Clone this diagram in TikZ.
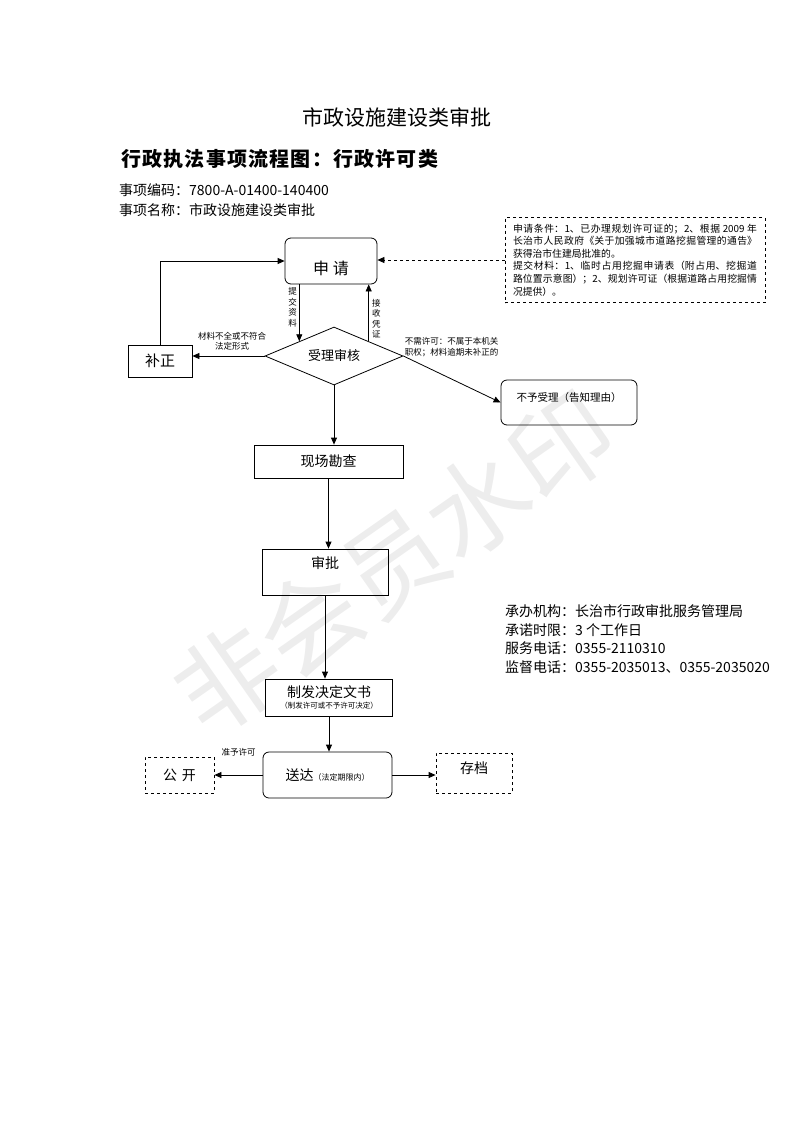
\documentclass[tikz,border=0pt]{standalone}
\usepackage{fontspec}
\setmainfont{Noto Sans CJK SC}
\newfontfamily\headfont[LetterSpace=6.0]{Noto Sans CJK SC}
\usetikzlibrary{shapes.geometric,arrows.meta,positioning}
\XeTeXlinebreaklocale "zh"
\XeTeXlinebreakskip=0pt plus 1.5pt
\tikzset{
  box/.style={draw, line width=0.8pt, inner sep=0pt, font=\fontsize{14}{16}\selectfont},
  rbox/.style={box, rounded corners=6pt},
  dbox/.style={box, dashed},
  decide/.style={draw, line width=0.8pt, diamond, aspect=2.4, minimum width=138pt,
    minimum height=58pt, inner sep=0pt, font=\fontsize{13}{15}\selectfont},
  arr/.style={line width=0.8pt, -{Triangle[length=7pt,width=6pt]}},
  tag/.style={font=\fontsize{8.5}{10.5}\selectfont, inner sep=1pt},
  lbl/.style={font=\fontsize{14}{18.5}\selectfont, inner sep=0pt}
}

\begin{document}
\begin{tikzpicture}[x=1pt,y=-1pt]
\useasboundingbox (0,0) rectangle (793,1122);
% watermark
\node[text=black!7, rotate=35, font=\fontsize{102}{102}\selectfont] (mark) at (394,563) {非会员水印};

% headings
\node[anchor=base, inner sep=0pt, font=\fontsize{21}{24}\selectfont] (title) at (397,125) {市政设施建设类审批};
\node[anchor=base west, inner sep=0pt, font=\headfont\bfseries\fontsize{20}{24}\selectfont] (subtitle) at (121,166) {行政执法事项流程图：行政许可类};
\node[lbl, anchor=base west] (code) at (119,195) {事项编码：7800-A-01400-140400};
\node[lbl, anchor=base west] (item) at (119,215) {事项名称：市政设施建设类审批};

% application and conditions
\node[rbox, minimum width=92pt, text height=36pt, text depth=10pt, font=\fontsize{16}{18}\selectfont] (apply) at (331,261) {申 请};
\node[dbox, text width=244pt, inner xsep=8pt, inner ysep=4pt, minimum height=85pt, align=justify,
  font=\fontsize{9.8}{12.6}\selectfont] (note) at (635,260)
  {申请条件：1、已办理规划许可证的；2、根据 2009 年\linebreak
   长治市人民政府《关于加强城市道路挖掘管理的通告》\linebreak
   获得治市住建局批准的。\par
   提交材料：1、临时占用挖掘申请表（附占用、挖掘道\linebreak
   路位置示意图）；2、规划许可证（根据道路占用挖掘情\linebreak
   况提供）。};

% acceptance check
\node[decide] (audit) at (334,356) {受理审核};
\node[box, minimum width=64pt, minimum height=32pt, font=\fontsize{15}{17}\selectfont] (fix) at (160,361) {补正};
\node[rbox, minimum width=136pt, text height=21pt, text depth=24pt, font=\fontsize{10.5}{12}\selectfont] (reject) at (569,402.5) {不予受理（告知理由）};

% main steps
\node[box, minimum width=149pt, minimum height=33pt] (site) at (328.5,461.5) {现场勘查};
\node[box, minimum width=126pt, text height=19pt, text depth=27pt] (approve) at (325,572) {审批};
\node[box, minimum width=127pt, minimum height=37pt, align=center, font=\fontsize{14}{11}\selectfont] (issue) at (329,697.5)
  {制发决定文书\\{\fontsize{7.5}{9}\selectfont （制发许可或不予许可决定）}};
\node[rbox, minimum width=129pt, minimum height=46pt] (deliver) at (327.5,775) {送达{\fontsize{8}{10}\selectfont（法定期限内）}};
\node[dbox, minimum width=69pt, minimum height=36pt] (publish) at (179.5,775) {公\hspace{5pt}开};
\node[dbox, minimum width=76pt, text height=20pt, text depth=20pt] (archive) at (474,773) {存档};

% office and phones
\node[lbl, anchor=north west, align=left] (office) at (505,604.5)
  {承办机构：长治市行政审批服务管理局\\
   承诺时限：3 个工作日\\
   服务电话：0355-2110310\\
   监督电话：0355-2035013、0355-2035020};

% connectors
\draw[arr, dashed] (note.west) -- (note.west -| apply.east);
\draw[arr] (apply.south -| audit.north west) -- (audit.north west)
  node[tag, pos=0.4, left=1pt, align=center] {提\\交\\资\\料};
\draw[arr] (audit.north east) -- (audit.north east |- apply.south)
  node[tag, pos=0.4, right=2pt, align=center] {接\\收\\凭\\证};
\draw[arr] (audit.west) -- (audit.west -| fix.east)
  node[tag, pos=0.45, above=4pt, align=center] {材料不全或不符合\\法定形式};
\draw[arr] (fix.north) |- (apply.west);
\draw[arr] (audit.east) -- (reject.west)
  node[tag, pos=0, anchor=south west, yshift=-2pt, align=left] {不需许可：不属于本机关\\职权；材料逾期未补正的};
\draw[arr] (audit.south) -- (audit.south |- site.north);
\draw[arr] (site.south) -- (site.south |- approve.north);
\draw[arr] (approve.south) -- (approve.south |- issue.north);
\draw[arr] (issue.south) -- (issue.south |- deliver.north);
\draw[arr] (deliver.west) -- (publish.east)
  node[tag, midway, above=17pt] {准予许可};
\draw[arr] (deliver.east) -- (deliver.east -| archive.west);
\end{tikzpicture}
\end{document}
